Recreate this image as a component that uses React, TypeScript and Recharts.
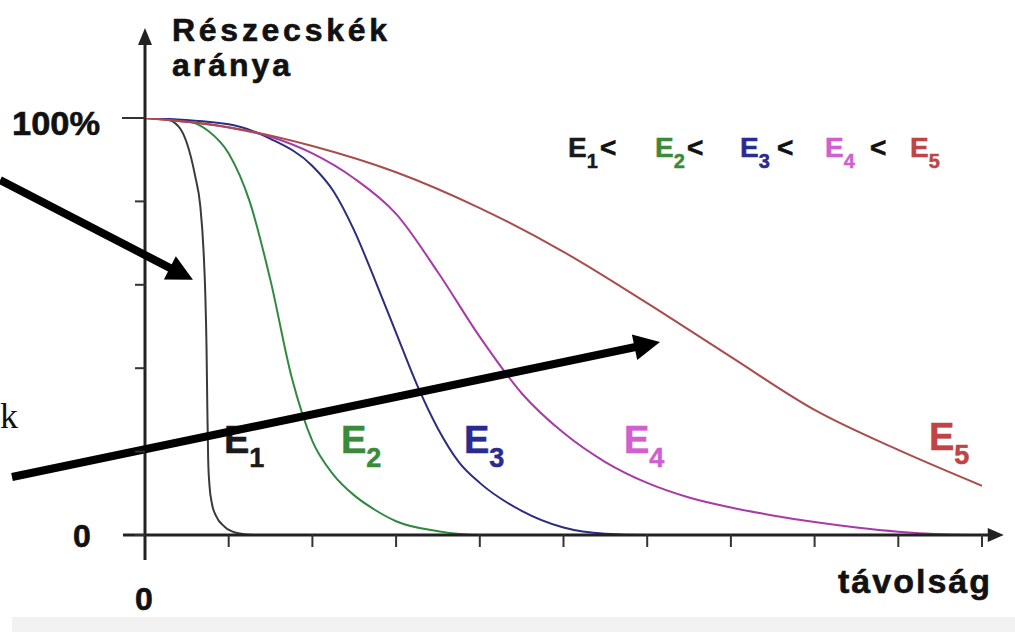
import { LineChart, Line, XAxis, YAxis, ReferenceLine, Customized } from "recharts";

// distance (units) -> share of particles (%)
const E1 = [
  { d: 0, p: 100 }, { d: 0.25, p: 99.7 }, { d: 0.4, p: 98 }, { d: 0.5, p: 94 },
  { d: 0.6, p: 86 }, { d: 0.66, p: 79 }, { d: 0.7, p: 68 }, { d: 0.72, p: 58 },
  { d: 0.735, p: 45 }, { d: 0.745, p: 30 }, { d: 0.755, p: 18 }, { d: 0.77, p: 12 },
  { d: 0.8, p: 7.5 }, { d: 0.85, p: 4.5 }, { d: 0.95, p: 2 }, { d: 1.1, p: 0.5 },
  { d: 1.3, p: 0 }, { d: 10, p: 0 },
];
const E2 = [
  { d: 0, p: 100 }, { d: 0.5, p: 99.3 }, { d: 0.75, p: 97 }, { d: 1, p: 91.5 },
  { d: 1.25, p: 80 }, { d: 1.5, p: 61 }, { d: 1.75, p: 38 }, { d: 2, p: 22.5 },
  { d: 2.25, p: 14.5 }, { d: 2.5, p: 9.5 }, { d: 2.75, p: 6 }, { d: 3, p: 3.3 },
  { d: 3.5, p: 0.9 }, { d: 4, p: 0 }, { d: 10, p: 0 },
];
const E3 = [
  { d: 0, p: 100 }, { d: 1, p: 98.5 }, { d: 1.5, p: 95 }, { d: 2, p: 88.5 },
  { d: 2.25, p: 82.5 }, { d: 2.5, p: 73 }, { d: 2.75, p: 61 }, { d: 3, p: 48.5 },
  { d: 3.25, p: 36 }, { d: 3.5, p: 25.5 }, { d: 3.75, p: 17.5 }, { d: 4, p: 12.5 },
  { d: 4.5, p: 5.8 }, { d: 5, p: 1.8 }, { d: 5.5, p: 0.3 }, { d: 6, p: 0 },
  { d: 10, p: 0 },
];
const E4 = [
  { d: 0, p: 100 }, { d: 1, p: 97.7 }, { d: 1.5, p: 95.5 }, { d: 2, p: 91.5 },
  { d: 2.5, p: 85.5 }, { d: 3, p: 77 }, { d: 3.5, p: 63 }, { d: 4, p: 47.5 },
  { d: 4.5, p: 34 }, { d: 5, p: 24.5 }, { d: 5.5, p: 17.5 }, { d: 6, p: 12.5 },
  { d: 6.5, p: 9 }, { d: 7, p: 6.6 }, { d: 7.5, p: 4.7 }, { d: 8, p: 3.1 },
  { d: 8.5, p: 1.8 }, { d: 9, p: 0.8 }, { d: 9.5, p: 0.2 }, { d: 10, p: 0 },
];
const E5 = [
  { d: 0, p: 100 }, { d: 1, p: 97.8 }, { d: 2, p: 93.3 }, { d: 3, p: 87 },
  { d: 4, p: 78.4 }, { d: 5, p: 67.9 }, { d: 6, p: 55.6 }, { d: 7, p: 42.7 },
  { d: 8, p: 30 }, { d: 9, p: 20.4 }, { d: 10, p: 11.8 },
];

const X_TICKS = [0, 1, 2, 3, 4, 5, 6, 7, 8, 9, 10];
const Y_TICKS = [0, 20, 40, 60, 80, 100];

const FONT = "'Liberation Sans', Arial, sans-serif";

const lineColors = ["#3a3a3a", "#2f8a3f", "#2c2c80", "#a83aa8", "#a84c4c"];
const labelColors = ["#1a1a1a", "#3a8a3a", "#2a2a90", "#d060d0", "#c04444"];

function arrow(width: number, headLen: number, headW: number, color = "#000") {
  return (props: any) => {
    const { x1, y1, x2, y2 } = props;
    const dx = x2 - x1;
    const dy = y2 - y1;
    const len = Math.hypot(dx, dy) || 1;
    const ux = dx / len;
    const uy = dy / len;
    const bx = x2 - ux * headLen;
    const by = y2 - uy * headLen;
    const px = -uy * (headW / 2);
    const py = ux * (headW / 2);
    return (
      <g>
        <line x1={x1} y1={y1} x2={bx + ux} y2={by + uy} stroke={color} strokeWidth={width} />
        <polygon points={`${x2},${y2} ${bx + px},${by + py} ${bx - px},${by - py}`} fill={color} />
      </g>
    );
  };
}

const boldText = { fontFamily: FONT, fontWeight: "bold" as const, fill: "#111", stroke: "#111", strokeWidth: 0.6 };

function YTick(props: any) {
  const { x, y, payload } = props;
  const v = payload.value;
  return (
    <g>
      <line x1={x - (v === 100 ? 23 : 10)} x2={x} y1={y} y2={y} stroke="#333" strokeWidth={2} />
      {v === 100 && (
        <text x={x - 133} y={y + 17} {...boldText} fontSize={33} textLength={88} lengthAdjust="spacingAndGlyphs">
          100%
        </text>
      )}
      {v === 0 && (
        <text x={x - 72} y={y + 12} {...boldText} fontSize={32}>
          0
        </text>
      )}
    </g>
  );
}

function XTick(props: any) {
  const { x, y, payload } = props;
  const v = payload.value;
  if (v === 0) {
    return (
      <text x={x - 10} y={y + 75} {...boldText} fontSize={32}>
        0
      </text>
    );
  }
  return <line x1={x} x2={x} y1={y} y2={y + 12} stroke="#333" strokeWidth={2} />;
}

function Ename({ x, y, n, color, size, sub }: any) {
  return (
    <text x={x} y={y} fontFamily={FONT} fontWeight="bold" fontSize={size} fill={color} stroke={color} strokeWidth={0.5}>
      E
      <tspan fontSize={sub} dy={size * 0.38}>{n}</tspan>
    </text>
  );
}

function Lt({ x }: { x: number }) {
  return (
    <text x={x} y={157} {...boldText} fontSize={28}>
      &lt;
    </text>
  );
}

function Overlay() {
  return (
    <g>
      <rect x={12} y={617} width={1003} height={15} fill="#f2f2f2" />
      <text x={0} y={428} fontFamily="'Liberation Serif', serif" fontSize={36} fill="#111">k</text>
      <text x={172} y={41} {...boldText} fontSize={32} textLength={215} lengthAdjust="spacing">
        Részecskék
      </text>
      <text x={172} y={76} {...boldText} fontSize={32} textLength={118} lengthAdjust="spacing">
        aránya
      </text>
      <text x={838} y={593} {...boldText} fontSize={34} textLength={152} lengthAdjust="spacing">
        távolság
      </text>
      {/* legend */}
      <Ename x={568} y={157} n={1} color={labelColors[0]} size={28} sub={20} />
      <Lt x={600} />
      <Ename x={655} y={157} n={2} color={labelColors[1]} size={28} sub={20} />
      <Lt x={687} />
      <Ename x={740} y={157} n={3} color={labelColors[2]} size={28} sub={20} />
      <Lt x={777} />
      <Ename x={825} y={157} n={4} color={labelColors[3]} size={28} sub={20} />
      <Lt x={870} />
      <Ename x={910} y={157} n={5} color={labelColors[4]} size={28} sub={20} />
      {/* curve labels */}
      <Ename x={224} y={453} n={1} color={labelColors[0]} size={38} sub={27} />
      <Ename x={341} y={453} n={2} color={labelColors[1]} size={38} sub={27} />
      <Ename x={464} y={453} n={3} color={labelColors[2]} size={38} sub={27} />
      <Ename x={624} y={453} n={4} color={labelColors[3]} size={38} sub={27} />
      <Ename x={929} y={450} n={5} color={labelColors[4]} size={38} sub={27} />
    </g>
  );
}

export default function App() {
  const series = [E1, E2, E3, E4, E5];
  return (
    <div style={{ position: "absolute", left: 0, top: 0, width: 1015, height: 632, background: "#fff" }}>
      <LineChart width={1015} height={632} margin={{ top: 118, right: 33, bottom: 67, left: 85 }}>
        <XAxis
          type="number"
          dataKey="d"
          domain={[0, 10]}
          ticks={X_TICKS}
          allowDataOverflow
          height={30}
          axisLine={false}
          tickLine={false}
          tickSize={0}
          tickMargin={0}
          tick={XTick}
          interval={0}
        />
        <YAxis
          type="number"
          dataKey="p"
          domain={[0, 100]}
          ticks={Y_TICKS}
          allowDataOverflow
          width={60}
          axisLine={false}
          tickLine={false}
          tickSize={0}
          tickMargin={0}
          tick={YTick}
          interval={0}
        />
        {series.map((s, i) => (
          <Line
            key={i}
            data={s}
            dataKey="p"
            type="monotone"
            stroke={lineColors[i]}
            strokeWidth={2}
            dot={false}
            isAnimationActive={false}
          />
        ))}
        {/* axes with arrow heads */}
        <ReferenceLine segment={[{ x: 0, y: -6 }, { x: 0, y: 121.6 }]} ifOverflow="visible" shape={arrow(3, 17, 14, "#222")} />
        <ReferenceLine segment={[{ x: -0.263, y: 0 }, { x: 10.26, y: 0 }]} ifOverflow="visible" shape={arrow(3, 16, 14, "#222")} />
        {/* pointer arrows */}
        <ReferenceLine segment={[{ x: -1.732, y: 85.1 }, { x: 0.573, y: 61.2 }]} ifOverflow="visible" shape={arrow(8, 26, 26)} />
        <ReferenceLine segment={[{ x: -1.589, y: 13.9 }, { x: 6.153, y: 46.3 }]} ifOverflow="visible" shape={arrow(8, 26, 26)} />
        <Customized component={<Overlay />} />
      </LineChart>
    </div>
  );
}
